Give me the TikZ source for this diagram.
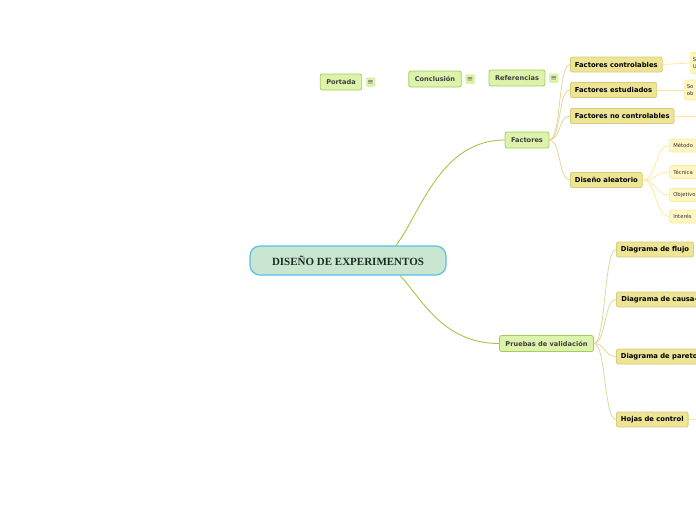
\documentclass[tikz,border=0pt]{standalone}
\usepackage{fontspec}
\setmainfont{DejaVu Sans}
\newfontfamily\rootfont{Liberation Serif}
\usetikzlibrary{positioning}
\definecolor{rootfill}{RGB}{200,230,208}
\definecolor{rootline}{RGB}{92,190,235}
\definecolor{mainfill}{RGB}{221,242,170}
\definecolor{mainline}{RGB}{165,205,90}
\definecolor{subfill}{RGB}{237,228,150}
\definecolor{subline}{RGB}{215,205,120}
\definecolor{leaffill}{RGB}{255,246,195}
\definecolor{leafline}{RGB}{252,236,160}
\definecolor{mainwire}{RGB}{160,200,70}
\definecolor{subwire}{RGB}{222,216,155}
\definecolor{leafwire}{RGB}{255,232,140}
\definecolor{maintext}{RGB}{64,64,64}
\definecolor{roottext}{RGB}{30,45,35}
\tikzset{
  rootnode/.style={draw=rootline,line width=1.2pt,fill=rootfill,rounded corners=10pt,
                   minimum width=196pt,minimum height=29pt,
                   font=\rootfont\bfseries\fontsize{11}{13}\selectfont,text=roottext},
  topic/.style={draw=mainline,line width=0.8pt,fill=mainfill,rounded corners=2pt,
                minimum height=16pt,inner xsep=6pt,inner ysep=0pt,
                font=\bfseries\fontsize{6.6}{7}\selectfont,text=maintext},
  subtopic/.style={topic,draw=subline,fill=subfill,minimum height=15pt,inner xsep=4.5pt,
                   font=\bfseries\fontsize{6.8}{7}\selectfont,text=black},
  leaf/.style={draw=leafline,line width=0.6pt,fill=leaffill,rounded corners=2pt,
               minimum height=13pt,inner xsep=4pt,inner ysep=0pt,text width=32pt,align=left,
               font=\fontsize{5.3}{6.2}\selectfont,text=black!80},
  noteicon/.style={fill=mainfill,rounded corners=1pt,inner sep=0.5pt,minimum size=9.5pt,
                   font=\fontsize{7.5}{7.5}\selectfont,text=black!60},
  mainlink/.style={mainwire,line width=0.9pt},
  sublink/.style={subwire,line width=0.8pt},
  leaflink/.style={leafwire,line width=0.7pt},
}

\begin{document}
\begin{tikzpicture}[x=1pt,y=-1pt]
  \path[use as bounding box] (0,0) rectangle (696,520);
  \clip (0,0) rectangle (696,520);

  % central topic
  \node[rootnode] (root) at (348,260.5) {DISEÑO DE EXPERIMENTOS};

  % floating topics
  \node[topic] (portada) at (341,82) {Portada};
  \node[noteicon,right=3.5pt of portada] (portadanote) {≡};
  \node[topic] (conclusion) at (435,79) {Conclusión};
  \node[noteicon,right=3.5pt of conclusion] (conclusionnote) {≡};
  \node[topic] (referencias) at (517,78) {Referencias};
  \node[noteicon,right=3.5pt of referencias] (referenciasnote) {≡};

  % main branches
  \node[topic] (factores) at (527,140) {Factores};
  \node[topic] (pruebas) at (546.5,343.5) {Pruebas de validación};

  \draw[mainlink] ([xshift=48pt]root.north) .. controls +(24,-31) and +(-65,0) .. (factores.west);
  \draw[mainlink] ([xshift=52pt]root.south) .. controls +(20,20) and +(-58,0) .. (pruebas.west);

  % factores
  \node[subtopic,anchor=west] (fcontrol) at (570,64.5) {Factores controlables};
  \node[subtopic,anchor=west] (festudio) at (570,90) {Factores estudiados};
  \node[subtopic,anchor=west] (fnocontrol) at (570,116) {Factores no controlables};
  \node[subtopic,anchor=west] (aleatorio) at (570,180) {Diseño aleatorio};
  \foreach \n in {fcontrol,festudio,fnocontrol,aleatorio}
    \draw[sublink] (factores.east) .. controls +(12,0) and +(-12,0) .. (\n.west);

  \node[leaf,anchor=west,minimum height=21pt,inner xsep=2.5pt] (fcontrolnote) at (690,63) {S\\U};
  \node[leaf,anchor=west,minimum height=20pt,inner xsep=2.5pt] (festudionote) at (684,90) {So\\ob};
  \coordinate (fnocontrolend) at (700,116);
  \draw[leaflink] (fcontrol.east) -- (fcontrolnote.west);
  \draw[leaflink] (festudio.east) -- (festudionote.west);
  \draw[leaflink] (fnocontrol.east) -- (fnocontrolend);

  % diseño aleatorio
  \node[leaf,anchor=west] (metodo) at (669,145.5) {Método};
  \node[leaf,anchor=west] (tecnica) at (669,172) {Técnica};
  \node[leaf,anchor=west] (objetivo) at (669,195) {Objetivo};
  \node[leaf,anchor=west] (interes) at (669,216.5) {Interés};
  \foreach \n in {metodo,tecnica,objetivo,interes}
    \draw[leaflink] (aleatorio.east) .. controls +(14,0) and +(-14,0) .. (\n.west);

  % pruebas de validacion
  \node[subtopic,anchor=west] (flujo) at (616,249.5) {Diagrama de flujo};
  \node[subtopic,anchor=west,minimum width=90pt,text width=80pt,align=left] (causa) at (616,299.5) {Diagrama de causa-};
  \node[subtopic,anchor=west] (pareto) at (616,356.5) {Diagrama de pareto};
  \node[subtopic,anchor=west] (hojas) at (616,419.5) {Hojas de control};
  \foreach \n in {flujo,causa,pareto,hojas}
    \draw[sublink] (pruebas.east) .. controls +(12,0) and +(-12,0) .. (\n.west);
  \coordinate (hojasend) at (700,419.5);
  \draw[leaflink] (hojas.east) -- (hojasend);
\end{tikzpicture}
\end{document}
